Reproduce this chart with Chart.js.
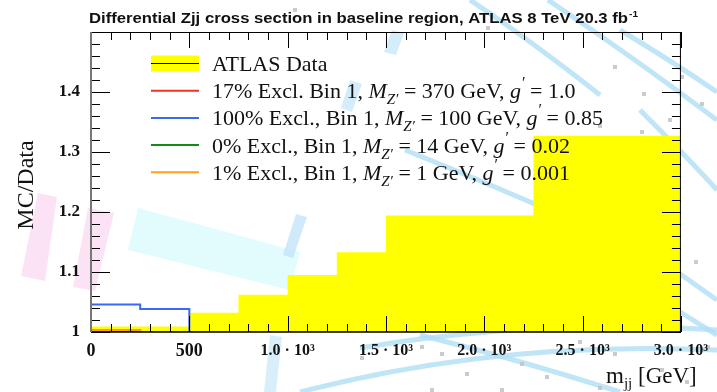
<!DOCTYPE html>
<html>
<head>
<meta charset="utf-8">
<script src="https://cdn.jsdelivr.net/npm/chart.js@4.4.1/dist/chart.umd.min.js"></script>
<style>
  body { margin: 0; background: #fff; }
  #grafica_zjj { display: block; }
</style>
</head>
<body>
<canvas id="grafica_zjj" width="717" height="392"></canvas>
<script>
/*-----Datos-----*/

const data_edges = [0, 500, 750, 1000, 1250, 1500, 2250, 3000];
const atlas_data = [1.009, 1.032, 1.062, 1.095, 1.133, 1.194, 1.327];

const signal_edges = [0, 250, 500, 750, 1000, 1250, 1500, 2250, 3000];
const excl_17 = [1.003, 1.0, 1.0, 1.0, 1.0, 1.0, 1.0, 1.0];
const excl_100 = [1.046, 1.0385, 1.0, 1.0, 1.0, 1.0, 1.0, 1.0];
const excl_0 = [1.0, 1.0, 1.0, 1.0, 1.0, 1.0, 1.0, 1.0];
const excl_1 = [1.003, 1.0, 1.0, 1.0, 1.0, 1.0, 1.0, 1.0];

const x_ticks = [0, 500, 1000, 1500, 2000, 2500, 3000];
const x_tick_labels = ['0', '500', '1.0 · 10³', '1.5 · 10³', '2.0 · 10³', '2.5 · 10³', '3.0 · 10³'];
const y_ticks = [1.0, 1.1, 1.2, 1.3, 1.4, 1.5];
const y_tick_labels = ['1', '1.1', '1.2', '1.3', '1.4', ''];

const title_text = 'Differential Zjj cross section in baseline region, ATLAS 8 TeV 20.3 fb';

const colors = {
  atlas: 'rgb(255,255,0)',
  red: 'rgb(240,52,30)',
  blue: 'rgb(60,105,240)',
  green: 'rgb(20,140,20)',
  orange: 'rgb(255,160,30)'
};

// legend rows: [symbol, parts of the label]
const legend_entries = [
  ['atlas', [{ t: 'ATLAS Data' }]],
  ['red', [{ t: '17% Excl. Bin 1, ' }, { t: 'M', i: true }, { t: 'Z′', i: true, s: 15, dy: 6 },
           { t: ' = 370 GeV, ' }, { t: 'g', i: true }, { t: '′', i: true, s: 16, dy: -10 }, { t: ' = 1.0' }]],
  ['blue', [{ t: '100% Excl., Bin 1, ' }, { t: 'M', i: true }, { t: 'Z′', i: true, s: 15, dy: 6 },
            { t: ' = 100 GeV, ' }, { t: 'g', i: true }, { t: '′', i: true, s: 16, dy: -10 }, { t: ' = 0.85' }]],
  ['green', [{ t: '0% Excl., Bin 1, ' }, { t: 'M', i: true }, { t: 'Z′', i: true, s: 15, dy: 6 },
             { t: ' = 14 GeV, ' }, { t: 'g', i: true }, { t: '′', i: true, s: 16, dy: -10 }, { t: ' = 0.02' }]],
  ['orange', [{ t: '1% Excl., Bin 1, ' }, { t: 'M', i: true }, { t: 'Z′', i: true, s: 15, dy: 6 },
              { t: ' = 1 GeV, ' }, { t: 'g', i: true }, { t: '′', i: true, s: 16, dy: -10 }, { t: ' = 0.001' }]]
];

const SERIF = '"Liberation Serif", "DejaVu Serif", serif';

/*-----Utilidades-----*/

// histogram as step points: one point per lower edge plus the closing edge
function step_points(edges, values) {
  const pts = values.map((v, i) => ({ x: edges[i], y: v }));
  pts.push({ x: edges[edges.length - 1], y: values[values.length - 1] });
  return pts;
}

function draw_parts(ctx, x, y, parts, size) {
  parts.forEach(p => {
    ctx.font = (p.i ? 'italic ' : '') + (p.s || size) + 'px ' + SERIF;
    ctx.fillText(p.t, x, y + (p.dy || 0));
    x += ctx.measureText(p.t).width;
  });
  return x;
}

function poly(ctx, pts, fill) {
  ctx.beginPath();
  ctx.moveTo(pts[0][0], pts[0][1]);
  pts.slice(1).forEach(p => ctx.lineTo(p[0], p[1]));
  ctx.closePath();
  ctx.fillStyle = fill;
  ctx.fill();
}

/*-----Fondo (event display tenue)-----*/

const backdrop = {
  id: 'backdrop',
  beforeDraw(chart) {
    const ctx = chart.ctx;
    ctx.save();
    ctx.fillStyle = '#fff';
    ctx.fillRect(0, 0, chart.width, chart.height);

    poly(ctx, [[38, 193], [57, 197], [45, 281], [21, 276]], 'rgba(250,214,240,0.7)');
    poly(ctx, [[88, 208], [114, 213], [95, 291], [73, 287]], 'rgba(250,214,240,0.7)');
    poly(ctx, [[138, 208], [300, 252], [290, 290], [128, 250]], 'rgba(214,250,252,0.7)');
    poly(ctx, [[296, 214], [307, 217], [293, 258], [283, 255]], 'rgba(190,225,250,0.7)');
    poly(ctx, [[270, 335], [282, 337], [276, 392], [264, 392]], 'rgba(200,232,250,0.7)');
    poly(ctx, [[350, 80], [362, 84], [352, 112], [341, 108]], 'rgba(200,232,250,0.8)');
    poly(ctx, [[392, 30], [404, 33], [396, 55], [384, 52]], 'rgba(200,232,250,0.8)');

    ctx.strokeStyle = 'rgba(175,222,245,0.8)';
    ctx.lineWidth = 5;
    const arcs = [
      [[470, 0], [530, 40], [600, 95]],
      [[548, 0], [630, 55], [717, 120]],
      [[620, 30], [670, 60], [717, 92]],
      [[405, 150], [480, 180], [560, 215]],
      [[560, 190], [640, 245], [717, 300]],
      [[600, 260], [660, 300], [717, 335]],
      [[360, 348], [540, 318], [717, 330]],
      [[300, 392], [500, 340], [717, 350]],
      [[420, 335], [520, 360], [620, 392]],
      [[640, 110], [690, 160], [717, 190]]
    ];
    arcs.forEach(a => {
      ctx.beginPath();
      ctx.moveTo(a[0][0], a[0][1]);
      ctx.quadraticCurveTo(a[1][0], a[1][1], a[2][0], a[2][1]);
      ctx.stroke();
    });

    ctx.fillStyle = 'rgba(190,190,190,0.8)';
    const squares = [[293, 8], [486, 26], [613, 65], [680, 75], [642, 92], [700, 102],
                     [598, 124], [668, 118], [640, 130], [694, 260], [420, 345], [578, 340],
                     [440, 352], [613, 352], [545, 375], [520, 362], [465, 372], [685, 380],
                     [660, 368], [706, 345], [430, 388], [598, 386], [360, 356], [500, 388]];
    squares.forEach(s => ctx.fillRect(s[0], s[1], 4, 4));
    ctx.restore();
  }
};

/*-----Marco con marcas hacia dentro-----*/

const frame = {
  id: 'frame',
  afterDraw(chart) {
    const ctx = chart.ctx;
    const a = chart.chartArea;
    const xs = chart.scales.x, ys = chart.scales.y;
    ctx.save();
    ctx.strokeStyle = '#000';
    ctx.lineWidth = 1;
    ctx.beginPath();
    for (let v = 0; v <= 3000; v += 100) {
      const px = Math.round(xs.getPixelForValue(v)) + 0.5;
      const len = v % 500 === 0 ? 16 : 8;
      ctx.moveTo(px, a.bottom); ctx.lineTo(px, a.bottom - len);
      ctx.moveTo(px, a.top); ctx.lineTo(px, a.top + len);
    }
    for (let k = 0; k <= 25; k++) {
      const py = Math.round(ys.getPixelForValue(1 + k * 0.02)) + 0.5;
      const len = k % 5 === 0 ? 19 : 9;
      ctx.moveTo(a.left, py); ctx.lineTo(a.left + len, py);
      ctx.moveTo(a.right, py); ctx.lineTo(a.right - len, py);
    }
    ctx.stroke();

    ctx.beginPath();
    ctx.moveTo(a.left, a.top + 0.5); ctx.lineTo(a.right, a.top + 0.5);
    ctx.moveTo(a.right - 0.5, a.top); ctx.lineTo(a.right - 0.5, a.bottom);
    ctx.stroke();
    ctx.lineWidth = 1.5;
    ctx.beginPath();
    ctx.moveTo(a.left, a.bottom); ctx.lineTo(a.right, a.bottom);
    ctx.stroke();
    ctx.strokeStyle = '#777';
    ctx.lineWidth = 2;
    ctx.beginPath();
    ctx.moveTo(a.left, a.top); ctx.lineTo(a.left, a.bottom);
    ctx.stroke();
    ctx.restore();
  }
};

/*-----Leyenda y títulos-----*/

const texts = {
  id: 'texts',
  afterDraw(chart) {
    const ctx = chart.ctx;
    ctx.save();
    ctx.textBaseline = 'alphabetic';
    ctx.fillStyle = '#111';

    // title with fb^-1, stretched to the width of the original line
    ctx.font = 'bold 15px "Liberation Sans", Arial, sans-serif';
    const tw = ctx.measureText(title_text).width;
    const sx = 539 / tw;
    ctx.save();
    ctx.translate(89, 23);
    ctx.scale(sx, 1);
    ctx.fillText(title_text, 0, 0);
    ctx.font = 'bold 9px "Liberation Sans", Arial, sans-serif';
    ctx.fillText('-1', tw + 1, -6);
    ctx.restore();

    // legend
    legend_entries.forEach((e, i) => {
      const yc = 63.5 + i * 27.2;
      if (e[0] === 'atlas') {
        ctx.fillStyle = colors.atlas;
        ctx.fillRect(151, yc - 8, 48, 16);
        ctx.strokeStyle = '#000';
        ctx.lineWidth = 1;
      } else {
        ctx.strokeStyle = colors[e[0]];
        ctx.lineWidth = 2;
      }
      ctx.beginPath();
      ctx.moveTo(151, yc); ctx.lineTo(199, yc);
      ctx.stroke();
      ctx.fillStyle = '#111';
      draw_parts(ctx, 212, yc + 7.5, e[1], 22);
    });

    // y axis title
    ctx.save();
    ctx.translate(33, 185);
    ctx.rotate(-Math.PI / 2);
    ctx.textAlign = 'center';
    ctx.font = '24px ' + SERIF;
    ctx.fillText('MC/Data', 0, 0);
    ctx.restore();

    // x axis title
    draw_parts(ctx, 606, 383, [{ t: 'm' }, { t: 'jj', s: 15, dy: 5 }, { t: ' [GeV]' }], 23);
    ctx.restore();
  }
};

/*-----Gráfica-----*/

const grafica_zjj = document.getElementById('grafica_zjj');

const line_set = (label, values, color, order) => ({
  label: label,
  data: step_points(signal_edges, values),
  stepped: 'before',
  borderColor: color,
  borderWidth: 2,
  pointRadius: 0,
  fill: false,
  order: order
});

new Chart(grafica_zjj, {
  type: 'line',
  data: {
    datasets: [
      {
        label: 'ATLAS Data',
        data: step_points(data_edges, atlas_data),
        stepped: 'before',
        fill: { value: 1 },
        backgroundColor: colors.atlas,
        borderColor: 'rgba(0,0,0,0)',
        borderWidth: 0,
        pointRadius: 0,
        order: 5
      },
      line_set('17% Excl. Bin 1', excl_17, colors.red, 4),
      line_set('100% Excl., Bin 1', excl_100, colors.blue, 3),
      line_set('0% Excl., Bin 1', excl_0, colors.green, 2),
      line_set('1% Excl., Bin 1', excl_1, colors.orange, 1)
    ]
  },
  options: {
    responsive: false,
    animation: false,
    layout: { padding: { top: 32, right: 23, left: 0, bottom: 0 } },
    plugins: {
      legend: { display: false },
      tooltip: { enabled: false },
      title: { display: false }
    },
    scales: {
      x: {
        type: 'linear',
        min: 0,
        max: 3000,
        afterFit: s => { s.height = 60; },
        afterBuildTicks: s => { s.ticks = x_ticks.map(v => ({ value: v })); },
        ticks: {
          callback: (v, i) => x_tick_labels[i],
          autoSkip: false,
          maxRotation: 0,
          padding: 9,
          color: '#111',
          font: c => ({ family: SERIF, size: c.index < 2 ? 18 : 16, weight: 'bold' })
        },
        grid: { display: false, drawTicks: false },
        border: { display: false }
      },
      y: {
        min: 1,
        max: 1.5,
        afterFit: s => { s.width = 91; },
        afterBuildTicks: s => { s.ticks = y_ticks.map(v => ({ value: v })); },
        ticks: {
          callback: (v, i) => y_tick_labels[i],
          padding: 11,
          color: '#111',
          font: { family: SERIF, size: 17, weight: 'bold' }
        },
        grid: { display: false, drawTicks: false },
        border: { display: false }
      }
    }
  },
  plugins: [backdrop, frame, texts]
});
</script>
</body>
</html>
